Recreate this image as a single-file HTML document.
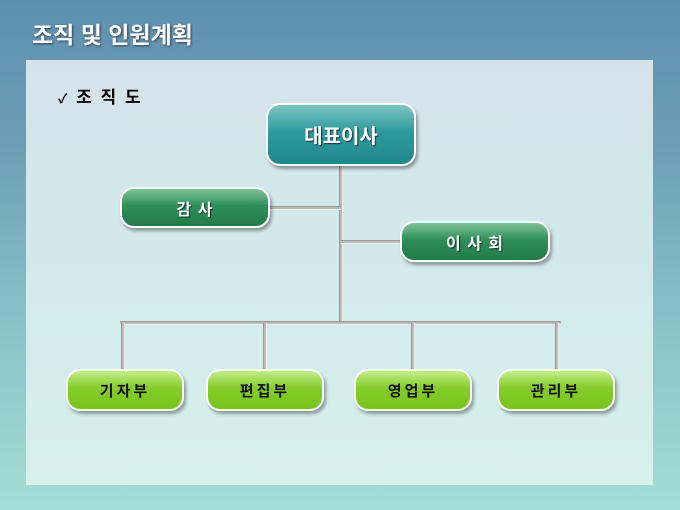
<!DOCTYPE html>
<html><head><meta charset="utf-8"><style>
body{margin:0;width:680px;height:510px;overflow:hidden;font-family:"Liberation Sans","Noto Sans CJK KR",sans-serif;
background:linear-gradient(180deg,#5e8fae 0%,#6f9fb6 30%,#86bfc6 60%,#a6ddd5 100%);position:relative}
.title{position:absolute;left:32px;top:16px;color:#fff;font-size:23px;font-weight:bold;text-shadow:1px 1px 2px #345}
.panel{position:absolute;left:26px;top:60px;width:627px;height:425px;background:linear-gradient(180deg,#d4e3ea,#d2ebeb 60%,#d6f0ec)}
.sub{position:absolute;left:58px;top:83px;font-size:17px;font-weight:bold;color:#000;letter-spacing:2px}
.n{position:absolute;border:2px solid #fff;border-radius:14px;box-shadow:2px 3px 3px rgba(0,0,0,.35);display:flex;align-items:center;justify-content:center;font-weight:bold;box-sizing:border-box}
.t{background:linear-gradient(180deg,#7cc6c4 0%,#2e9a9c 45%,#21888a 100%);color:#fff;font-size:20px;text-shadow:1px 1px 1px #134}
.g{background:linear-gradient(180deg,#7ec49a 0%,#2f8f5a 45%,#227a48 100%);color:#fff;font-size:16px;letter-spacing:1px;text-shadow:1px 1px 1px #132}
.l{background:linear-gradient(180deg,#c4ee8c 0%,#86cc2a 45%,#78c41e 100%);color:#111;font-size:15px;letter-spacing:3px}
.v{position:absolute;width:4px;background:#bbb;border-left:1px solid #999;border-right:1px solid #eee;box-sizing:border-box}
.h{position:absolute;height:4px;background:#bbb;border-top:1px solid #999;border-bottom:1px solid #eee;box-sizing:border-box}
</style></head><body>
<div class="title">조직 및 인원계획</div>
<div class="panel"></div>
<div class="sub"><span style="font-size:13px">✓</span> 조 직 도</div>
<div class="v" style="left:339px;top:164px;height:161px"></div>
<div class="h" style="left:268px;top:206px;width:73px"></div>
<div class="h" style="left:341px;top:240px;width:62px"></div>
<div class="h" style="left:120px;top:321px;width:441px"></div>
<div class="v" style="left:121px;top:323px;height:48px"></div>
<div class="v" style="left:263px;top:323px;height:48px"></div>
<div class="v" style="left:411px;top:323px;height:48px"></div>
<div class="v" style="left:555px;top:323px;height:48px"></div>
<div class="n t" style="left:266px;top:103px;width:150px;height:63px">대표이사</div>
<div class="n g" style="left:120px;top:187px;width:150px;height:41px">감 사</div>
<div class="n g" style="left:400px;top:221px;width:150px;height:41px">이 사 회</div>
<div class="n l" style="left:66px;top:369px;width:118px;height:42px">기자부</div>
<div class="n l" style="left:206px;top:369px;width:118px;height:42px">편집부</div>
<div class="n l" style="left:354px;top:369px;width:118px;height:42px">영업부</div>
<div class="n l" style="left:497px;top:369px;width:118px;height:42px">관리부</div>
</body></html>
